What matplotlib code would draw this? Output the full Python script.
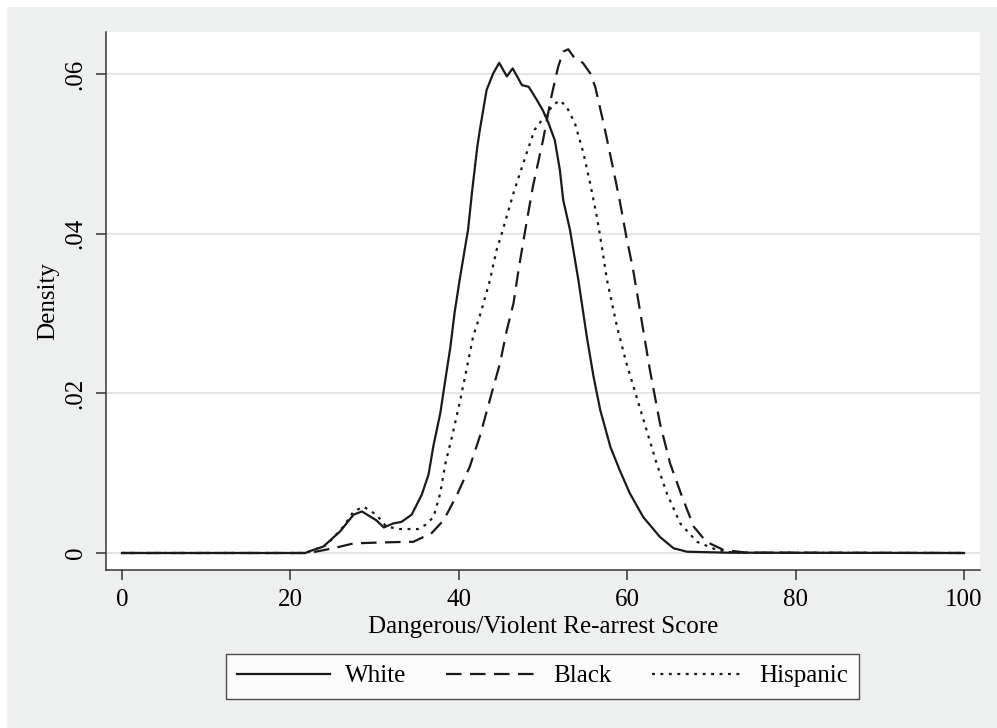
import matplotlib
matplotlib.use("Agg")
import matplotlib.pyplot as plt
from matplotlib.patches import Rectangle

# Kernel density curves (score, density)
white_x = [0, 21.8, 22.1, 23.9, 25.9, 27.5, 28.5, 30.2, 31.1, 32.2, 33.2, 34.4, 35.6,
           36.4, 37.0, 37.8, 38.4, 39.0, 39.5, 40.1, 40.7, 41.1, 41.6, 42.2, 42.5,
           43.3, 44.1, 44.8, 45.7, 46.4, 47.5, 48.3, 49.3, 50.0, 50.6, 51.4, 52.0,
           52.4, 53.2, 54.2, 55.2, 56.0, 56.8, 58.0, 59.1, 60.3, 61.9, 63.9, 65.5,
           67.1, 71.8, 100]
white_y = [0, 0, 0.00016, 0.0008, 0.0027, 0.0048, 0.0052, 0.0041, 0.0032, 0.0037,
           0.0039, 0.0048, 0.0073, 0.0098, 0.0135, 0.0175, 0.0217, 0.0258, 0.0301,
           0.0342, 0.0380, 0.0405, 0.0455, 0.0509, 0.0530, 0.0580, 0.0601, 0.0614,
           0.0597, 0.0607, 0.0586, 0.0584, 0.0567, 0.0554, 0.0540, 0.0517, 0.0480,
           0.0442, 0.0405, 0.0342, 0.0271, 0.0221, 0.0179, 0.0133, 0.0104, 0.0075,
           0.0045, 0.0020, 0.0006, 0.00016, 0.00004, 0]

black_x = [0, 21.7, 22.7, 25.1, 27.5, 30.2, 33.8, 34.6, 35.8, 36.6, 38.2, 39.7, 41.3,
           42.5, 43.9, 44.9, 45.7, 46.5, 47.1, 47.9, 48.8, 50.0, 51.0, 51.8, 52.4,
           53.0, 53.6, 54.2, 54.8, 55.6, 56.2, 57.2, 58.2, 59.1, 59.9, 60.7, 61.7,
           62.7, 63.9, 65.1, 66.5, 67.9, 69.4, 71.4, 74.2, 100]
black_y = [0, 0, 0.0001, 0.0006, 0.0012, 0.0013, 0.0014, 0.0014, 0.0020, 0.0023,
           0.0041, 0.0071, 0.0108, 0.0146, 0.0200, 0.0238, 0.0279, 0.0313, 0.0355,
           0.0405, 0.0459, 0.0517, 0.0572, 0.0609, 0.0628, 0.0631, 0.0622, 0.0619,
           0.0613, 0.0601, 0.0584, 0.0538, 0.0488, 0.0442, 0.0396, 0.0355, 0.0292,
           0.0229, 0.0162, 0.0112, 0.0071, 0.0033, 0.0014, 0.0004, 0.00004, 0]

hisp_x = [0, 21.9, 22.3, 24.3, 26.3, 27.5, 28.7, 30.2, 31.4, 33.0, 35.2, 36.0, 37.0,
          37.8, 38.4, 39.2, 40.1, 40.9, 41.7, 42.7, 43.7, 44.5, 45.1, 46.5, 47.9,
          49.0, 50.2, 51.2, 52.0, 52.8, 53.8, 54.8, 55.6, 56.4, 56.8, 57.6, 58.8,
          59.9, 61.1, 62.3, 63.5, 64.7, 66.3, 68.3, 70.6, 72.6, 100]
hisp_y = [0, 0, 0.0002, 0.0010, 0.0033, 0.0052, 0.0058, 0.0048, 0.0033, 0.0030,
          0.0030, 0.0035, 0.0045, 0.0075, 0.0112, 0.0146, 0.0188, 0.0229, 0.0271,
          0.0304, 0.0342, 0.0380, 0.0400, 0.0451, 0.0496, 0.0530, 0.0547, 0.0561,
          0.0567, 0.0559, 0.0538, 0.0501, 0.0463, 0.0421, 0.0396, 0.0342, 0.0283,
          0.0238, 0.0196, 0.0154, 0.0112, 0.0075, 0.0037, 0.0014, 0.0004, 0.00004, 0]

x_ticks = [0, 20, 40, 60, 80, 100]
y_ticks = [0, 0.02, 0.04, 0.06]
y_labels = ["0", ".02", ".04", ".06"]

plt.rcParams["font.family"] = ["Liberation Serif", "DejaVu Serif"]
plt.rcParams["font.size"] = 18

W, H = 997, 728
fig = plt.figure(figsize=(W / 100, H / 100), dpi=100, facecolor="white")
fig.patches.append(Rectangle((7 / W, 0), 1, (H - 7) / H, transform=fig.transFigure,
                             facecolor="#eef0ef", edgecolor="none", zorder=-10))

ax = fig.add_axes([106 / W, (H - 570) / H, (980 - 106) / W, (570 - 32) / H])
ax.set_facecolor("white")

ink = "#1a1a1a"
ax.plot(white_x, white_y, color=ink, lw=1.6, label="White")
ax.plot(black_x, black_y, color=ink, lw=1.6, dashes=(7, 3.8), label="Black")
ax.plot(hisp_x, hisp_y, color=ink, lw=1.6, dashes=(1.3, 2.5), label="Hispanic")

ax.set_xlim(-1.9, 101.9)
ax.set_ylim(-0.00213, 0.06526)
ax.set_xticks(x_ticks)
ax.set_yticks(y_ticks)
ax.set_yticklabels(y_labels, rotation=90, va="center")
ax.grid(axis="y", color="#e6e6e6", lw=1.6)
ax.set_axisbelow(True)

for s in ["top", "right"]:
    ax.spines[s].set_visible(False)
for s in ["left", "bottom"]:
    ax.spines[s].set_color("#333333")
    ax.spines[s].set_linewidth(1.1)
ax.tick_params(direction="out", length=7, width=1.1, color="#333333", pad=7)

ax.set_xlabel("Dangerous/Violent Re-arrest Score", labelpad=3)
ax.set_ylabel("Density", labelpad=4)

leg = fig.legend(loc="center", bbox_to_anchor=(542.5 / W, 1 - 676 / H), ncol=3,
                 frameon=True, fancybox=False, handlelength=3.7, handletextpad=0.6,
                 columnspacing=1.6, borderpad=0.45)
leg.get_frame().set_edgecolor("#222222")
leg.get_frame().set_linewidth(1.0)

fig.savefig("out.png", dpi=100, facecolor=fig.get_facecolor())
